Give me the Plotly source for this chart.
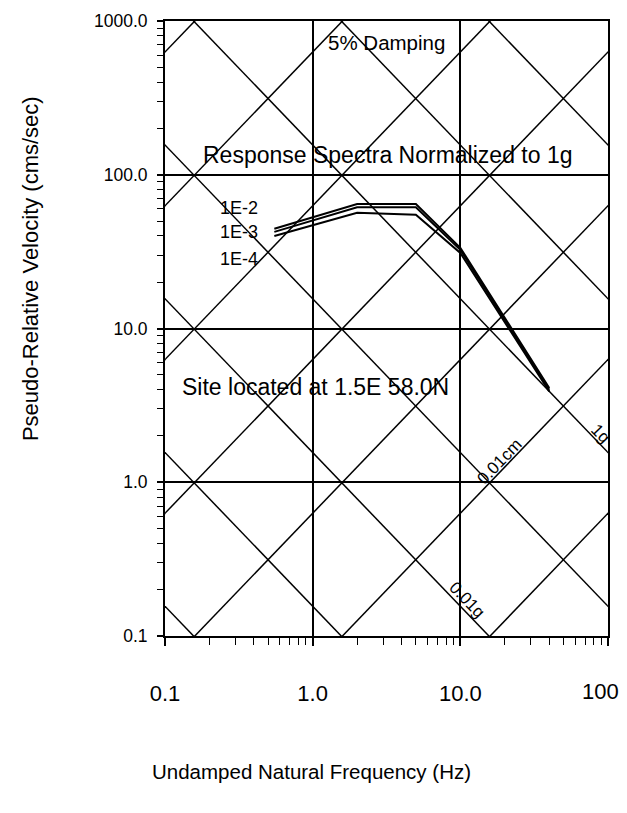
import numpy as np
import plotly.graph_objects as go

# ---- data ----
freq_hz = [0.55, 2.0, 5.0, 10.0, 40.0]
v_1e2 = [44.5, 64.5, 64.5, 33.5, 4.1]
v_1e3 = [42.5, 61.5, 61.5, 32.5, 4.0]
v_1e4 = [40.0, 56.5, 55.0, 31.0, 3.9]
series_names = ["1E-2", "1E-3", "1E-4"]

disp_levels_cm = [1e-3, 1e-2, 1e-1, 1e0, 1e1, 1e2, 1e3]
accel_levels_g = [1e-4, 1e-3, 1e-2, 1e-1, 1e0, 1e1, 1e2]
G_CMS2 = 981.0

x_tickvals = [0.1, 1, 10, 100]
x_ticktext = ["0.1", "1.0", "10.0", ""]
x_last_label = "100"
y_tickvals = [0.1, 1, 10, 100, 1000]
y_ticktext = ["0.1", "1.0", "10.0", "100.0", "1000.0"]

FONT = "Liberation Sans, Arial, sans-serif"

fig = go.Figure()

# tripartite grid: constant displacement (V = 2*pi*f*D) and constant acceleration (V = A/(2*pi*f))
f_span = np.array([0.01, 1000.0])
dx, dy = [], []
for D in disp_levels_cm:
    dx += list(f_span) + [None]
    dy += list(2 * np.pi * f_span * D) + [None]
ax_, ay_ = [], []
for A in accel_levels_g:
    ax_ += list(f_span) + [None]
    ay_ += list(A * G_CMS2 / (2 * np.pi * f_span)) + [None]

fig.add_trace(go.Scatter(x=dx, y=dy, mode="lines", line=dict(color="black", width=1.5),
                         hoverinfo="skip", showlegend=False))
fig.add_trace(go.Scatter(x=ax_, y=ay_, mode="lines", line=dict(color="black", width=1.5),
                         hoverinfo="skip", showlegend=False))

for name, vals in zip(series_names, [v_1e2, v_1e3, v_1e4]):
    fig.add_trace(go.Scatter(x=freq_hz, y=vals, mode="lines", name=name,
                             line=dict(color="black", width=2), showlegend=False))

minor_x = [m * 10.0 ** e for e in range(-1, 2) for m in range(2, 10)]
minor_y = [m * 10.0 ** e for e in range(-1, 3) for m in range(2, 10)]

fig.update_xaxes(type="log", range=[-1, 2], automargin=False,
                 showline=True, linecolor="black", linewidth=2,
                 mirror=True, ticks="outside", ticklen=8, tickwidth=1.5, tickcolor="black",
                 showgrid=True, gridcolor="black", gridwidth=1.6,
                 tickmode="array", tickvals=x_tickvals, ticktext=x_ticktext,
                 tickfont=dict(family=FONT, size=22, color="black"),
                 ticklabelstandoff=29,
                 minor=dict(tickmode="array", tickvals=minor_x, ticks="outside", ticklen=7,
                            tickwidth=1.2, tickcolor="black", showgrid=False))
fig.update_yaxes(type="log", range=[-1, 3], automargin=False,
                 showline=True, linecolor="black", linewidth=2,
                 mirror=True, ticks="outside", ticklen=6, tickwidth=1.5, tickcolor="black",
                 showgrid=True, gridcolor="black", gridwidth=1.6,
                 tickmode="array", tickvals=y_tickvals, ticktext=y_ticktext,
                 tickfont=dict(family=FONT, size=17.5, color="black"),
                 ticklabelstandoff=6,
                 minor=dict(tickmode="array", tickvals=minor_y, ticks="outside", ticklen=6,
                            tickwidth=1.2, tickcolor="black", showgrid=False))

def ann(text, lx, ly, size=20, angle=0):
    fig.add_annotation(x=lx, y=ly, xref="x", yref="y", text=text, showarrow=False,
                       xanchor="center", yanchor="middle",
                       textangle=angle, font=dict(family=FONT, size=size, color="black"))

ann("5% Damping", 0.503, 2.857, size=20.5)
ann("Response Spectra Normalized to 1g", 0.51, 2.128, size=23)
ann("Site located at 1.5E 58.0N", 0.016, 0.619, size=23)
ann("1E-2", -0.50, 1.784, size=18)
ann("1E-3", -0.50, 1.628, size=18)
ann("1E-4", -0.50, 1.452, size=18)
ann("0.01cm", 1.268, 0.132, size=17, angle=-46)
ann("1g", 1.948, 0.315, size=17, angle=46)
ann("0.01g", 1.051, -0.766, size=17, angle=46)

fig.add_annotation(x=0.982, y=-0.091, xref="paper", yref="paper", showarrow=False,
                   xanchor="center", yanchor="middle", text=x_last_label,
                   font=dict(family=FONT, size=22, color="black"))
fig.add_annotation(x=0.3296, y=-0.221, xref="paper", yref="paper", showarrow=False,
                   xanchor="center", yanchor="middle",
                   text="Undamped Natural Frequency (Hz)",
                   font=dict(family=FONT, size=20.5, color="black"))
fig.add_annotation(x=-0.305, y=0.598, xref="paper", yref="paper", showarrow=False,
                   xanchor="center", yanchor="middle",
                   text="Pseudo-Relative Velocity (cms/sec)", textangle=-90,
                   font=dict(family=FONT, size=22, color="black"))

# page body has an 8px default margin, so the figure is sized/offset to compensate
fig.update_layout(width=619, height=805, margin=dict(l=157, r=19, t=13, b=177),
                  paper_bgcolor="white", plot_bgcolor="white", showlegend=False)

fig.write_html("out.html")
